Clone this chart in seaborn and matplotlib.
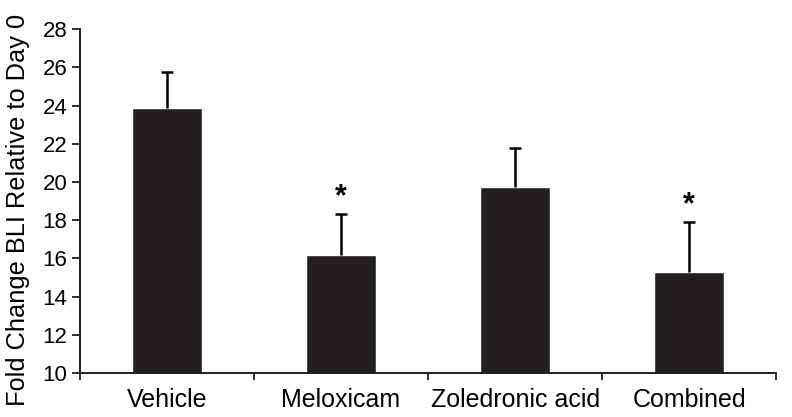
import matplotlib
matplotlib.use("Agg")
import matplotlib.pyplot as plt
import seaborn as sns
import numpy as np
import pandas as pd

sns.set_theme(style="white")
plt.rcParams['font.family'] = ['Liberation Sans', 'DejaVu Sans']

# --- datos ---
groups = ["Vehicle", "Meloxicam", "Zoledronic acid", "Combined"]
means = [23.87, 16.17, 19.73, 15.31]
err_top = [25.78, 18.35, 21.79, 17.91]
significant = [False, True, False, True]

df = pd.DataFrame({"group": groups, "fold_change": means})
sem = np.array(err_top) - np.array(means)

fig = plt.figure(figsize=(7.92, 4.17), dpi=100)
ax = fig.add_axes([0.101, 0.1055, 0.879, 0.8245])

bar_color = "#231f20"
sns.barplot(data=df, x="group", y="fold_change", color=bar_color,
            width=0.4, errorbar=None, ax=ax, saturation=1)

# barras de error solo hacia arriba (sin tapa inferior)
xpos = np.arange(len(groups))
_, caps, _ = ax.errorbar(xpos, means, yerr=[np.zeros(len(sem)), sem], fmt="none",
                         ecolor="black", elinewidth=1.8, capsize=4.3, capthick=1.8)
caps[0].set_visible(False)

for x, top, sig in zip(xpos, err_top, significant):
    if sig:
        ax.text(x, top + 0.45, "*", ha="center", va="baseline",
                fontsize=22, fontweight="bold", color="black")

ax.set_ylim(10, 28)
ax.set_xlim(-0.5, 3.5)
ax.set_yticks(np.arange(10, 29, 2))
ax.set_xticks(xpos)
ax.set_xticks(np.arange(-0.5, 4, 1), minor=True)
ax.tick_params(axis="x", which="major", length=0, pad=11, labelsize=18)
ax.tick_params(axis="x", which="minor", direction="out", length=5, width=1.3, color="#231f20", bottom=True)
ax.tick_params(axis="y", direction="out", length=6, width=1.3, color="#231f20", labelsize=16, pad=3, left=True)
for lbl in ax.get_xticklabels() + ax.get_yticklabels():
    lbl.set_color("black")

for s in ["top", "right"]:
    ax.spines[s].set_visible(False)
for s in ["left", "bottom"]:
    ax.spines[s].set_color("#231f20")
    ax.spines[s].set_linewidth(1.4)

ax.set_xlabel("")
ax.set_ylabel("Fold Change BLI Relative to Day 0", fontsize=18.3, color="black")
ax.yaxis.set_label_coords(-0.072, 0.474)

fig.savefig("out.png", dpi=100)
